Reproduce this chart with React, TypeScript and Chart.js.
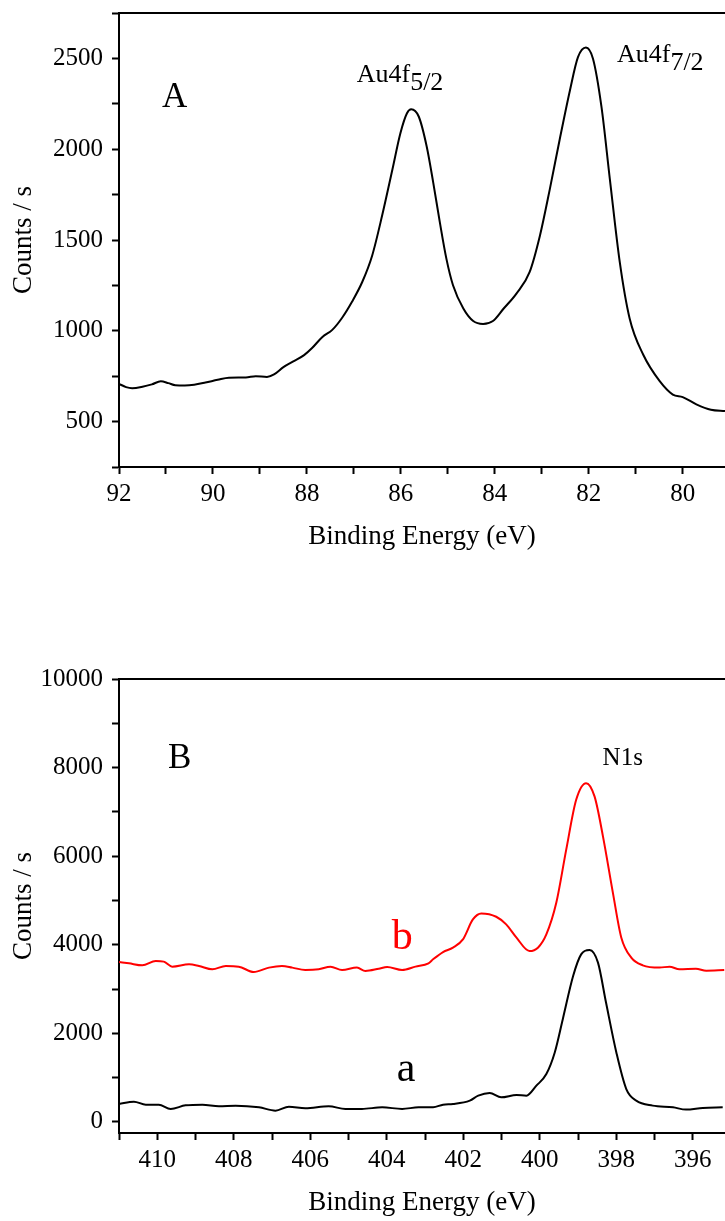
import React, { useEffect, useRef } from 'react';
import { Chart, registerables } from 'chart.js';

Chart.register(...registerables);

// ---------- Panel A: Au4f ----------
const A_EV = [92.0, 91.85, 91.72, 91.5, 91.3, 91.11, 90.95, 90.8, 90.6, 90.4, 90.16, 89.9, 89.66, 89.3, 89.09, 88.85, 88.7, 88.5, 88.3, 88.06, 87.89, 87.67, 87.46, 87.25, 87.04, 86.82, 86.61, 86.4, 86.18, 86.01, 85.87, 85.78, 85.62, 85.45, 85.31, 85.17, 85.03, 84.89, 84.67, 84.46, 84.25, 84.04, 83.82, 83.54, 83.26, 83.04, 82.83, 82.62, 82.4, 82.23, 82.06, 81.91, 81.73, 81.55, 81.34, 81.13, 80.84, 80.49, 80.21, 80.0, 79.71, 79.4, 79.1];
const A_COUNTS = [708, 690, 684, 692, 705, 722, 712, 700, 699, 703, 715, 730, 742, 743, 750, 746, 760, 800, 830, 866, 905, 966, 1005, 1072, 1160, 1270, 1415, 1633, 1888, 2088, 2198, 2220, 2180, 2015, 1815, 1597, 1396, 1251, 1123, 1054, 1038, 1054, 1120, 1205, 1323, 1524, 1779, 2052, 2325, 2507, 2560, 2498, 2234, 1833, 1378, 1068, 868, 723, 649, 635, 595, 565, 558];

const A_X_TICKS = [80, 81, 82, 83, 84, 85, 86, 87, 88, 89, 90, 91, 92];
const A_X_LABELS = [80, 82, 84, 86, 88, 90, 92];
const A_Y_TICKS = [250, 500, 750, 1000, 1250, 1500, 1750, 2000, 2250, 2500, 2750];
const A_Y_LABELS = [500, 1000, 1500, 2000, 2500];

// ---------- Panel B: N1s ----------
const B_EV_a = [411.0, 410.61, 410.3, 409.96, 409.65, 409.26, 408.82, 408.39, 407.95, 407.34, 406.91, 406.56, 406.13, 405.52, 405.08, 404.65, 404.12, 403.6, 403.17, 402.79, 402.53, 402.27, 401.83, 401.61, 401.31, 401.01, 400.61, 400.35, 400.09, 399.83, 399.61, 399.4, 399.13, 398.92, 398.7, 398.48, 398.27, 398.0, 397.74, 397.48, 397.05, 396.52, 396.18, 395.74, 395.22];
const B_COUNTS_a = [405, 458, 390, 390, 293, 375, 390, 353, 368, 330, 255, 345, 308, 353, 293, 293, 330, 293, 330, 330, 390, 405, 480, 593, 653, 555, 608, 593, 818, 1081, 1569, 2320, 3295, 3783, 3881, 3596, 2695, 1569, 743, 480, 368, 330, 278, 315, 330];

const B_EV_b = [411.0, 410.74, 410.39, 410.04, 409.83, 409.61, 409.17, 408.91, 408.56, 408.21, 407.87, 407.48, 407.08, 406.74, 406.47, 406.13, 405.78, 405.47, 405.17, 404.78, 404.56, 404.21, 403.99, 403.6, 403.25, 402.91, 402.79, 402.53, 402.27, 402.01, 401.75, 401.53, 401.14, 400.88, 400.61, 400.27, 400.05, 399.83, 399.57, 399.31, 399.05, 398.79, 398.57, 398.35, 398.09, 397.87, 397.61, 397.31, 396.87, 396.61, 396.35, 395.92, 395.65, 395.18];
const B_COUNTS_b = [3611, 3581, 3536, 3634, 3619, 3506, 3558, 3521, 3446, 3521, 3506, 3385, 3484, 3521, 3484, 3430, 3446, 3506, 3430, 3484, 3408, 3460, 3498, 3430, 3506, 3581, 3671, 3836, 3934, 4121, 4572, 4707, 4632, 4459, 4159, 3858, 3934, 4234, 4947, 6148, 7274, 7649, 7349, 6448, 5172, 4159, 3709, 3536, 3484, 3506, 3446, 3460, 3415, 3430];

const B_X_TICKS = [396, 397, 398, 399, 400, 401, 402, 403, 404, 405, 406, 407, 408, 409, 410, 411];
const B_X_LABELS = [396, 398, 400, 402, 404, 406, 408, 410];
const B_Y_TICKS = [0, 1000, 2000, 3000, 4000, 5000, 6000, 7000, 8000, 9000, 10000];
const B_Y_LABELS = [0, 2000, 4000, 6000, 8000, 10000];

const X_TITLE = 'Binding Energy (eV)';
const Y_TITLE = 'Counts / s';

const FONT = "'Liberation Serif', 'Times New Roman', serif";

type Txt = { x: number; y: number; text: string; sub?: string; size: number; color: string };

const TEXTS_A: Txt[] = [
  { x: 91.085, y: 2232, text: 'A', size: 35, color: '#000' },
  { x: 86.94, y: 2369, text: 'Au4f', sub: '5/2', size: 26, color: '#000' },
  { x: 81.4, y: 2478, text: 'Au4f', sub: '7/2', size: 26, color: '#000' },
];
const TEXTS_B: Txt[] = [
  { x: 409.72, y: 7995, text: 'B', size: 35, color: '#000' },
  { x: 398.36, y: 8062, text: 'N1s', size: 25, color: '#000' },
  { x: 403.87, y: 3896, text: 'b', size: 42, color: '#ff0000' },
  { x: 403.74, y: 923, text: 'a', size: 42, color: '#000' },
];

const zip = (xs: number[], ys: number[]) => xs.map((x, i) => ({ x, y: ys[i] }));

function makeAxis(opts: {
  min: number; max: number; reverse: boolean; ticks: number[]; labels: number[];
  title: string; isX: boolean; size: number; titlePad: any; tickPad: number;
}) {
  return {
    type: 'linear',
    min: opts.min,
    max: opts.max,
    reverse: opts.reverse,
    afterBuildTicks: (s: any) => { s.ticks = opts.ticks.map((v) => ({ value: v })); },
    afterFit: (s: any) => { if (opts.isX) s.height = opts.size; else s.width = opts.size; },
    grid: { drawOnChartArea: false, drawTicks: true, tickLength: 7, tickWidth: 2, tickColor: '#000' },
    border: { display: true, color: '#000', width: 2 },
    ticks: {
      autoSkip: false, maxRotation: 0, minRotation: 0, padding: opts.tickPad, color: '#000',
      font: { family: FONT, size: 25 },
      callback: (v: any) => (opts.labels.includes(Number(v)) ? String(v) : ''),
    },
    title: { display: true, text: opts.title, color: '#000', font: { family: FONT, size: 27 }, padding: opts.titlePad },
  };
}

function framePlugin(texts: Txt[]) {
  return {
    id: 'frameText',
    afterDraw(chart: any) {
      const { ctx, chartArea } = chart;
      const { left, right, top } = chartArea;
      const xs = chart.scales.x;
      const ys = chart.scales.y;
      ctx.save();
      ctx.strokeStyle = '#000';
      ctx.lineWidth = 2;
      ctx.beginPath();
      ctx.moveTo(left - 1, top);
      ctx.lineTo(right, top);
      ctx.stroke();
      ctx.textAlign = 'left';
      ctx.textBaseline = 'alphabetic';
      for (const t of texts) {
        const px = xs.getPixelForValue(t.x);
        const py = ys.getPixelForValue(t.y);
        ctx.fillStyle = t.color;
        ctx.font = `${t.size}px ${FONT}`;
        ctx.fillText(t.text, px, py);
        if (t.sub) {
          const w = ctx.measureText(t.text).width;
          ctx.fillText(t.sub, px + w, py + 8);
        }
      }
      ctx.restore();
    },
  };
}

export default function App() {
  const refA = useRef<HTMLCanvasElement>(null);
  const refB = useRef<HTMLCanvasElement>(null);

  useEffect(() => {
    const common = {
      responsive: false,
      animation: false,
      devicePixelRatio: 1,
      plugins: { legend: { display: false }, tooltip: { enabled: false } },
      elements: { point: { radius: 0 } },
    };
    const chartA = new Chart(refA.current as HTMLCanvasElement, {
      type: 'line',
      data: {
        datasets: [{
          data: zip(A_EV, A_COUNTS), borderColor: '#000', borderWidth: 2,
          cubicInterpolationMode: 'monotone', pointRadius: 0, fill: false,
        }],
      },
      options: {
        ...common,
        layout: { padding: { top: 33, right: 0, bottom: 0, left: 0 } },
        scales: {
          x: makeAxis({ min: 79.1, max: 92, reverse: true, ticks: A_X_TICKS, labels: A_X_LABELS, title: X_TITLE, isX: true, size: 133, titlePad: { top: 0, bottom: 47 }, tickPad: 5 }),
          y: makeAxis({ min: 250, max: 2750, reverse: false, ticks: A_Y_TICKS, labels: A_Y_LABELS, title: Y_TITLE, isX: false, size: 119, titlePad: { top: 8, bottom: 0 }, tickPad: 9 }),
        },
      } as any,
      plugins: [framePlugin(TEXTS_A)],
    });
    const chartB = new Chart(refB.current as HTMLCanvasElement, {
      type: 'line',
      data: {
        datasets: [
          { data: zip(B_EV_b, B_COUNTS_b), borderColor: '#ff0000', borderWidth: 2, cubicInterpolationMode: 'monotone', pointRadius: 0, fill: false },
          { data: zip(B_EV_a, B_COUNTS_a), borderColor: '#000', borderWidth: 2, cubicInterpolationMode: 'monotone', pointRadius: 0, fill: false },
        ],
      },
      options: {
        ...common,
        layout: { padding: { top: 79, right: 0, bottom: 0, left: 0 } },
        scales: {
          x: makeAxis({ min: 395.16, max: 411, reverse: true, ticks: B_X_TICKS, labels: B_X_LABELS, title: X_TITLE, isX: true, size: 88, titlePad: { top: 0, bottom: 2 }, tickPad: 5 }),
          y: makeAxis({ min: -250, max: 10000, reverse: false, ticks: B_Y_TICKS, labels: B_Y_LABELS, title: Y_TITLE, isX: false, size: 119, titlePad: { top: 8, bottom: 0 }, tickPad: 9 }),
        },
      } as any,
      plugins: [framePlugin(TEXTS_B)],
    });
    return () => { chartA.destroy(); chartB.destroy(); };
  }, []);

  return (
    <div style={{ position: 'absolute', left: 0, top: 0, width: 725, height: 1221, overflow: 'hidden', background: '#fff' }}>
      <canvas ref={refA} width={725} height={620} style={{ position: 'absolute', left: 0, top: -20, display: 'block' }} />
      <canvas ref={refB} width={725} height={621} style={{ position: 'absolute', left: 0, top: 600, display: 'block' }} />
    </div>
  );
}
